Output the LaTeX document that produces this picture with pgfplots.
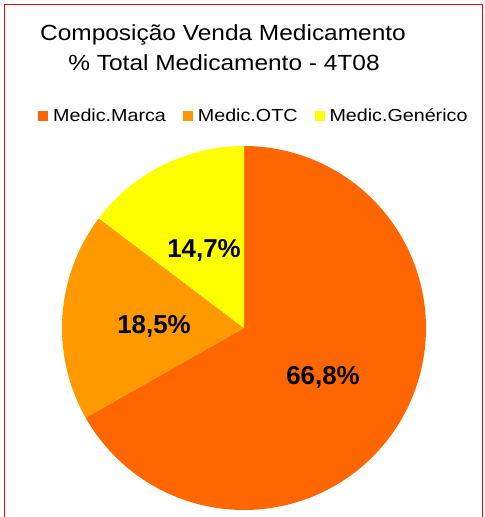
\documentclass[border=0pt]{standalone}
\usepackage{fontspec}
\setmainfont{Liberation Sans}
\usepackage{pgfplots}
\pgfplotsset{compat=1.18}
\definecolor{cMarca}{HTML}{FF6600}
\definecolor{cOTC}{HTML}{FF9900}
\definecolor{cGen}{HTML}{FFFF00}
\def\vA{66.8}
\def\vB{18.5}
\def\vC{14.7}
\newcommand{\legtxt}[1]{\scalebox{1.13}[1]{#1}}
\begin{document}
\begin{tikzpicture}[x=1bp,y=-1bp]
\useasboundingbox (0,0) rectangle (485,517);
\draw[red, line width=1.5bp] (4.5,530) -- (4.5,4.5) -- (482.5,4.5) -- (482.5,530);
\node[font=\fontsize{22}{26}\selectfont] at (223,35) {\scalebox{1.116}[1]{Composição Venda Medicamento}};
\node[font=\fontsize{22}{26}\selectfont] at (224,63) {\scalebox{1.116}[1]{\% Total Medicamento - 4T08}};
\pgfmathsetmacro\aS{90}
\pgfmathsetmacro\aA{90-3.6*\vA}
\pgfmathsetmacro\aB{\aA-3.6*\vB}
\pgfmathsetmacro\aC{\aB-3.6*\vC}
\begin{axis}[
  at={(244bp,-328bp)}, anchor=center,
  scale only axis, width=364bp, height=364bp,
  xmin=-1, xmax=1, ymin=-1, ymax=1,
  hide axis, clip=false,
  legend columns=3,
  legend style={at={(0.527,1.082)}, anchor=center, draw=none, fill=none,
    font=\fontsize{17.5}{20}\selectfont,
    /tikz/every even column/.append style={column sep=15bp},
    inner sep=0pt},
  legend image code/.code={\draw[#1,draw=none] (0bp,-5bp) rectangle (10bp,5bp); \path (13bp,0bp);},
]
\addplot[fill=cMarca, draw=none, domain=\aS:\aA, samples=150, variable=\t] ({cos(\t)},{sin(\t)}) -- (axis cs:0,0) -- cycle;
\addlegendentry{\legtxt{Medic.Marca}}
\addplot[fill=cOTC, draw=none, domain=\aA:\aB, samples=60, variable=\t] ({cos(\t)},{sin(\t)}) -- (axis cs:0,0) -- cycle;
\addlegendentry{\legtxt{Medic.OTC}}
\addplot[fill=cGen, draw=none, domain=\aB:\aC, samples=60, variable=\t] ({cos(\t)},{sin(\t)}) -- (axis cs:0,0) -- cycle;
\addlegendentry{\legtxt{Medic.Genérico}}
\end{axis}
\node[font=\bfseries\fontsize{26}{30}\selectfont] at (204,250) {14,7\%};
\node[font=\bfseries\fontsize{26}{30}\selectfont] at (154,326) {18,5\%};
\node[font=\bfseries\fontsize{26}{30}\selectfont] at (323,377) {66,8\%};
\end{tikzpicture}
\end{document}
